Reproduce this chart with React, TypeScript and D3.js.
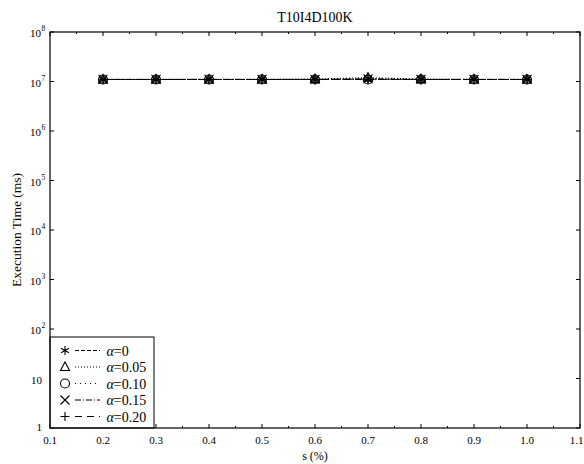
import React from "react";
import * as d3 from "d3";

// Minimum support thresholds (%)
const supports = [0.2, 0.3, 0.4, 0.5, 0.6, 0.7, 0.8, 0.9, 1.0];

// Execution time (ms) for each alpha setting
const alpha0 = [1.1e7, 1.1e7, 1.1e7, 1.1e7, 1.1e7, 1.12e7, 1.1e7, 1.1e7, 1.1e7];
const alpha005 = [1.1e7, 1.1e7, 1.1e7, 1.1e7, 1.12e7, 1.2e7, 1.12e7, 1.1e7, 1.1e7];
const alpha010 = [1.1e7, 1.1e7, 1.1e7, 1.1e7, 1.1e7, 1.1e7, 1.1e7, 1.1e7, 1.1e7];
const alpha015 = [1.1e7, 1.1e7, 1.1e7, 1.1e7, 1.1e7, 1.13e7, 1.1e7, 1.1e7, 1.1e7];
const alpha020 = [1.1e7, 1.1e7, 1.1e7, 1.1e7, 1.1e7, 1.1e7, 1.1e7, 1.1e7, 1.1e7];

const seriesNames = ["0", "0.05", "0.10", "0.15", "0.20"];
const seriesValues = [alpha0, alpha005, alpha010, alpha015, alpha020];
const seriesMarkers = ["star", "triangle", "circle", "cross", "plus"];
const seriesDashes = ["4,2", "1,2", "1,4", "6,2,1,2", "7,5"];

const xTicks = [0.1, 0.2, 0.3, 0.4, 0.5, 0.6, 0.7, 0.8, 0.9, 1.0, 1.1];
const yExponents = [0, 1, 2, 3, 4, 5, 6, 7, 8];

const W = 584;
const H = 464;
const left = 50;
const right = 580;
const top = 32;
const bottom = 428;
const font = "'Liberation Serif', 'Times New Roman', serif";

function Marker({ kind, x, y }: { kind: string; x: number; y: number }) {
  const r = 4.5;
  const common = { stroke: "#000", strokeWidth: 1.1, fill: "none" };
  if (kind === "circle") return <circle cx={x} cy={y} r={r} {...common} />;
  if (kind === "triangle") {
    const p = `${x},${y - r - 0.5} ${x - r},${y + r - 1} ${x + r},${y + r - 1}`;
    return <polygon points={p} {...common} />;
  }
  if (kind === "cross")
    return (
      <path d={`M${x - r},${y - r}L${x + r},${y + r}M${x - r},${y + r}L${x + r},${y - r}`} {...common} />
    );
  if (kind === "plus")
    return <path d={`M${x - r},${y}L${x + r},${y}M${x},${y - r}L${x},${y + r}`} {...common} />;
  // star: three crossing strokes
  const a = r * 0.87;
  const b = r * 0.5;
  return (
    <path
      d={`M${x},${y - r}L${x},${y + r}M${x - a},${y - b}L${x + a},${y + b}M${x - a},${y + b}L${x + a},${y - b}`}
      {...common}
    />
  );
}

export default function App() {
  const x = d3.scaleLinear().domain([0.1, 1.1]).range([left, right]);
  const y = d3.scaleLog().domain([1, 1e8]).range([bottom, top]);
  const line = d3
    .line<number>()
    .x((_, i) => x(supports[i]))
    .y((d) => y(d));

  const minorX = d3.range(0.15, 1.1, 0.1);

  const legendTop = 337;
  const legendRight = 154;
  const rowH = 16.5;

  return (
    <svg width={W} height={H} style={{ position: "absolute", left: 0, top: 0 }} fontFamily={font}>
      <rect x={0} y={0} width={W} height={H} fill="#fff" />
      <text x={(left + right) / 2} y={22} fontSize={14} textAnchor="middle">
        T10I4D100K
      </text>

      {/* x ticks, bottom and top, pointing inward */}
      {xTicks.map((t, i) => (
        <g key={`xt${t}`}>
          <line x1={x(t)} x2={x(t)} y1={bottom} y2={bottom - 4} stroke="#000" />
          <line x1={x(t)} x2={x(t)} y1={top} y2={top + 4} stroke="#000" />
          <text
            x={i === xTicks.length - 1 ? W - 0.5 : x(t)}
            y={bottom + 16}
            fontSize={11}
            textAnchor={i === xTicks.length - 1 ? "end" : "middle"}
          >
            {t.toFixed(1)}
          </text>
        </g>
      ))}
      {minorX.map((t) => (
        <g key={`xm${t}`}>
          <line x1={x(t)} x2={x(t)} y1={bottom} y2={bottom - 2} stroke="#000" />
          <line x1={x(t)} x2={x(t)} y1={top} y2={top + 2} stroke="#000" />
        </g>
      ))}

      {/* y ticks, left and right */}
      {yExponents.map((e) => {
        const yy = y(Math.pow(10, e));
        return (
          <g key={`yt${e}`}>
            <line x1={left} x2={left + 4} y1={yy} y2={yy} stroke="#000" />
            <line x1={right} x2={right - 4} y1={yy} y2={yy} stroke="#000" />
            <text x={e >= 2 ? 41 : 42} y={yy + (e === 0 ? 3 : 5)} fontSize={11} textAnchor="end">
              {e === 0 ? "1" : "10"}
            </text>
            {e >= 2 && (
              <text x={41.5} y={yy - 1} fontSize={7.5}>
                {e}
              </text>
            )}
          </g>
        );
      })}

      <text
        transform={`translate(21,${(top + bottom) / 2}) rotate(-90)`}
        fontSize={13.5}
        textAnchor="middle"
      >
        Execution Time (ms)
      </text>
      <text x={(left + right) / 2} y={459.5} fontSize={12} textAnchor="middle">
        s (%)
      </text>

      {/* series */}
      {seriesValues.map((vals, si) => (
        <g key={`s${si}`}>
          <path d={line(vals) || ""} fill="none" stroke="#000" strokeWidth={1} strokeDasharray={seriesDashes[si]} />
          {vals.map((v, i) => (
            <Marker key={i} kind={seriesMarkers[si]} x={x(supports[i])} y={y(v)} />
          ))}
        </g>
      ))}

      {/* legend */}
      <rect x={left} y={legendTop} width={legendRight - left} height={bottom - legendTop} fill="#fff" stroke="#000" />
      {seriesNames.map((n, i) => {
        const ly = legendTop + 13.5 + i * rowH;
        return (
          <g key={`lg${i}`}>
            <Marker kind={seriesMarkers[i]} x={65} y={ly} />
            <line x1={75} x2={100} y1={ly} y2={ly} stroke="#000" strokeDasharray={seriesDashes[i]} />
            <text x={106.5} y={ly + 5} fontSize={14}>
              <tspan fontStyle="italic">α</tspan>={n}
            </text>
          </g>
        );
      })}

      <rect x={left} y={top} width={right - left} height={bottom - top} fill="none" stroke="#000" strokeWidth={1.2} />
    </svg>
  );
}
